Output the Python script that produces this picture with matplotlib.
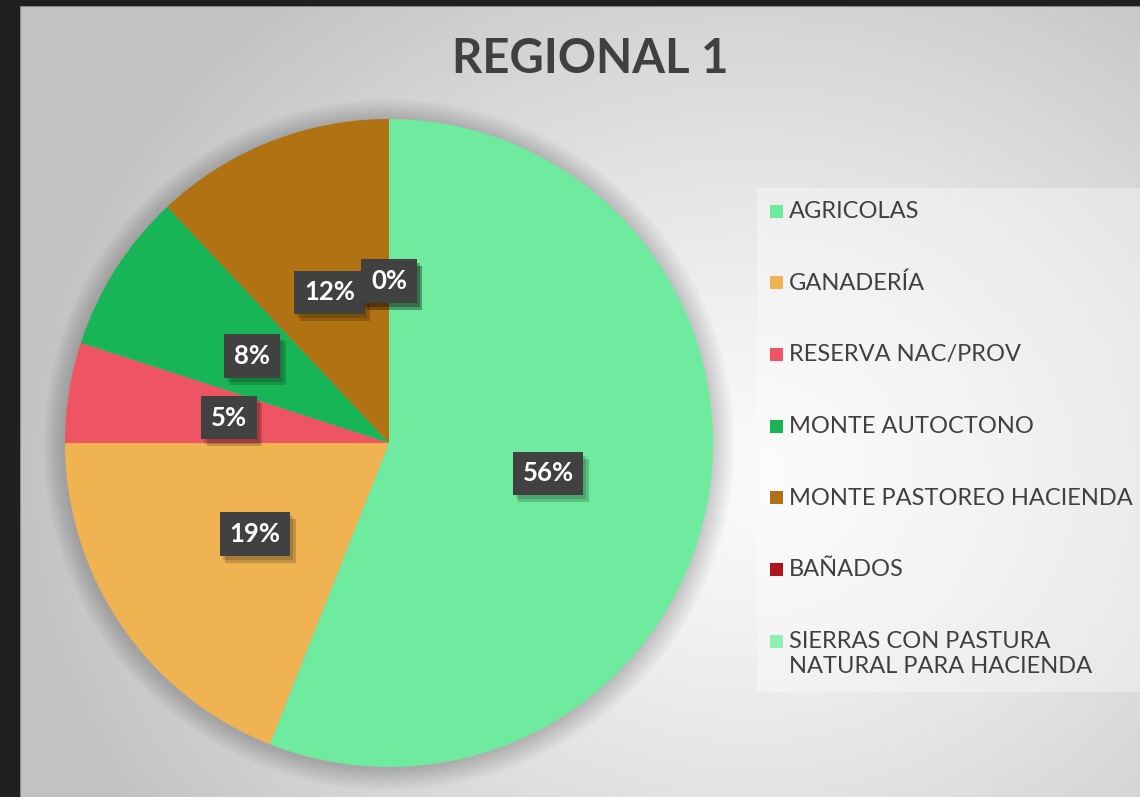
import matplotlib
matplotlib.use("Agg")
import matplotlib.pyplot as plt
import matplotlib.patches as mpatches
import matplotlib.patheffects as pe
import numpy as np

# data
categorias = ["AGRICOLAS", "GANADERÍA", "RESERVA NAC/PROV", "MONTE AUTOCTONO",
              "MONTE PASTOREO HACIENDA", "BAÑADOS",
              "SIERRAS CON PASTURA\nNATURAL PARA HACIENDA"]
porcentajes = [56, 19, 5, 8, 12, 0, 0]
colores = ["#6EEB9E", "#EFB352", "#EE5461", "#18B556", "#B07212", "#AE1520", "#8EF0B4"]
titulo = "REGIONAL 1"

W, H = 1140, 797
fig = plt.figure(figsize=(W / 100, H / 100), dpi=100, facecolor="#202020")
plt.rcParams["font.family"] = ["Lato", "DejaVu Sans"]

# chart area background (gradient)
bg = fig.add_axes([20 / W, 0, 1 - 20 / W, 1 - 6 / H])
yy, xx = np.mgrid[0:791, 0:1120]
d = np.sqrt(((xx - 730) / 1.0) ** 2 + ((yy - 470) / 0.85) ** 2)
g = 250 - 58 * np.clip(d / 760, 0, 1.2) ** 1.3
g = np.clip(g, 194, 250) / 255.0
bg.imshow(np.dstack([g, g, g]), aspect="auto", extent=[0, 1, 0, 1], origin="upper")
bg.set_xlim(0, 1)
bg.set_ylim(0, 1)
bg.axis("off")
bg.plot([0, 0], [0, 1], color="#8a8a8a", lw=1.5, transform=bg.transAxes)
bg.plot([0, 1], [1, 1], color="#8a8a8a", lw=1.5, transform=bg.transAxes)

# pie
cx, cy, r = 389, 443, 324
ax = fig.add_axes([(cx - r) / W, (H - cy - r) / H, 2 * r / W, 2 * r / H])

# soft shadow around the pie
for i in range(16):
    ax.add_patch(mpatches.Circle((0, -0.006), 1.0 + i * 0.0045, fc="black",
                                 alpha=0.012, ec="none", clip_on=False, zorder=0))

wedges, _ = ax.pie(porcentajes, colors=colores, startangle=90, counterclock=False,
                   radius=1, wedgeprops=dict(linewidth=0))
ax.set_xlim(-1, 1)
ax.set_ylim(-1, 1)
ax.axis("off")
for w in wedges:
    w.set_zorder(2)
    w.set_clip_on(False)

# data labels
for w, v in zip(wedges, porcentajes):
    ang = np.deg2rad((w.theta1 + w.theta2) / 2)
    x, y = 0.5 * np.cos(ang), 0.5 * np.sin(ang)
    t = ax.text(x, y, f"{v}%", ha="center", va="center", fontsize=18.5,
                fontweight="bold", color="white", zorder=4,
                bbox=dict(boxstyle="square,pad=0.38", fc="#414141", ec="none"))
    t.get_bbox_patch().set_path_effects([
        pe.SimplePatchShadow(offset=(4, -5), shadow_rgbFace="black", alpha=0.18),
        pe.SimplePatchShadow(offset=(2, -3), shadow_rgbFace="black", alpha=0.15),
        pe.Normal()])

# title
fig.text(590 / W, 1 - 59 / H, titulo, ha="center", va="center", fontsize=34,
         fontweight="bold", color="#404040")

# legend (drawn by hand to follow the reference layout)
fig.patches.append(mpatches.Rectangle((757 / W, 1 - 692 / H), (W - 757) / W, (692 - 188) / H,
                                      transform=fig.transFigure, fc="white", alpha=0.35,
                                      ec="none", zorder=1))
y0, step = 211, 71.7
for i, (lab, col) in enumerate(zip(categorias, colores)):
    yc = y0 + i * step
    fig.patches.append(mpatches.Rectangle((770 / W, 1 - (yc + 6.5) / H), 13 / W, 13 / H,
                                          transform=fig.transFigure, fc=col, ec="none", zorder=2))
    fig.text(789 / W, 1 - (yc - 10) / H, lab, ha="left", va="top", fontsize=17,
             color="#404040", linespacing=1.2, zorder=3)

fig.savefig("out.png", dpi=100, facecolor=fig.get_facecolor())
